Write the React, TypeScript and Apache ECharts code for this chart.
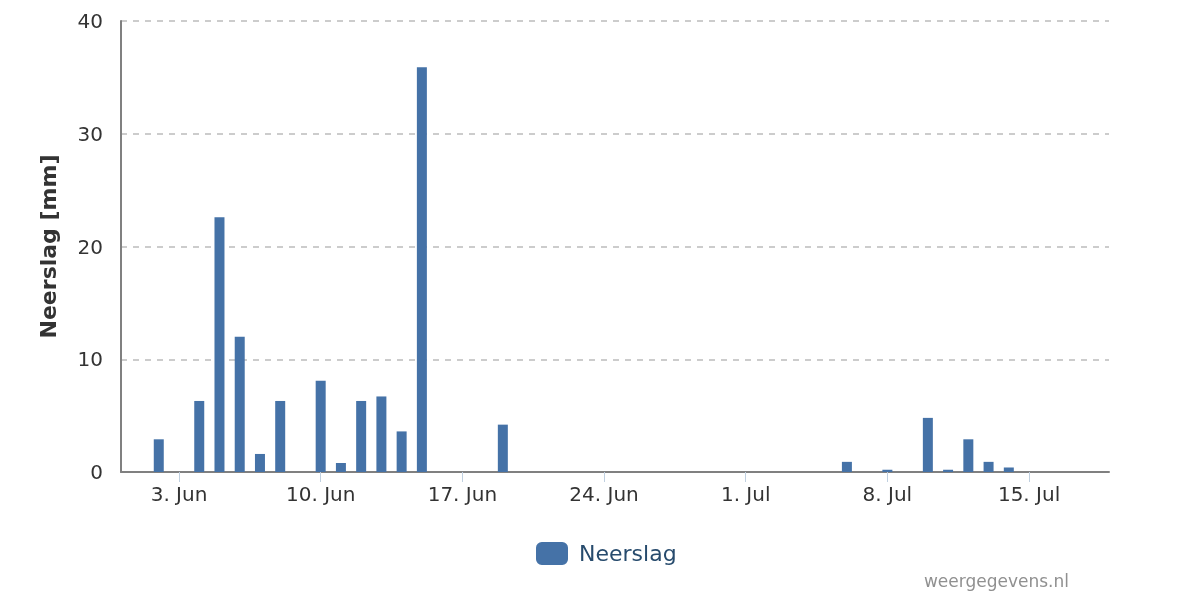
import React, { useEffect, useRef } from "react";
import * as echarts from "echarts";

// Day numbers: 1 = 1 June, 31 = 1 July
const rainDays = [2, 4, 5, 6, 7, 8, 10, 11, 12, 13, 14, 15, 19, 36, 38, 40, 41, 42, 43, 44];
const rainValues = [2.9, 6.3, 22.6, 12.0, 1.6, 6.3, 8.1, 0.8, 6.3, 6.7, 3.6, 35.9, 4.2, 0.9, 0.2, 4.8, 0.2, 2.9, 0.9, 0.4];
const tickDays = [3, 10, 17, 24, 31, 38, 45];
const yTicks = [0, 10, 20, 30, 40];
const seriesName = "Neerslag";
const yTitle = "Neerslag [mm]";
const credit = "weergegevens.nl";

function dayLabel(d: number): string {
  const r = Math.round(d);
  if (r <= 30) return r + ". Jun";
  return r - 30 + ". Jul";
}

export default function App() {
  const ref = useRef<HTMLDivElement>(null);
  useEffect(() => {
    if (!ref.current) return;
    const chart = echarts.init(ref.current, undefined, { renderer: "svg" });
    const font = "'DejaVu Sans', Verdana, sans-serif";
    chart.setOption({
      animation: false,
      textStyle: { fontFamily: font },
      grid: { left: 121, right: 91, top: 21, bottom: 128, containLabel: false },
      xAxis: {
        type: "value",
        min: 0.134,
        max: 48.95,
        axisLine: { show: true, lineStyle: { color: "#808080", width: 2 } },
        axisTick: {
          show: true,
          customValues: tickDays,
          length: 10,
          lineStyle: { color: "#C0D0E0", width: 1 },
        },
        axisLabel: {
          customValues: tickDays,
          formatter: (v: number) => dayLabel(v),
          color: "#333333",
          fontSize: 20,
          margin: 12,
          fontFamily: font,
        },
        splitLine: { show: false },
      },
      yAxis: {
        type: "value",
        min: yTicks[0],
        max: yTicks[yTicks.length - 1],
        interval: 10,
        name: yTitle,
        nameLocation: "middle",
        nameGap: 62,
        nameTextStyle: { fontSize: 22, fontWeight: "bold", color: "#333333", fontFamily: font },
        axisLine: { show: true, lineStyle: { color: "#808080", width: 2 } },
        axisTick: { show: false },
        axisLabel: { color: "#333333", fontSize: 20, margin: 18, fontFamily: font },
        splitLine: { show: true, lineStyle: { color: "#CCCCCC", width: 2, type: [6, 6] } },
      },
      legend: {
        show: true,
        data: [seriesName],
        left: 536,
        top: 542,
        padding: 0,
        icon: "roundRect",
        itemWidth: 32,
        itemHeight: 23,
        itemGap: 10,
        textStyle: { color: "#274b6d", fontSize: 22, fontFamily: font, padding: [0, 0, 0, 6] },
      },
      graphic: [
        {
          type: "text",
          right: 131,
          top: 572,
          style: { text: credit, fill: "#909090", fontSize: 17, fontFamily: font },
        },
      ],
      series: [
        {
          name: seriesName,
          type: "bar",
          barWidth: 10,
          itemStyle: { color: "#4572A7" },
          data: rainDays.map((d, i) => [d, rainValues[i]]),
        },
      ],
    });
    return () => chart.dispose();
  }, []);
  return <div ref={ref} style={{ position: "fixed", left: 0, top: 0, width: 1200, height: 600 }} />;
}
